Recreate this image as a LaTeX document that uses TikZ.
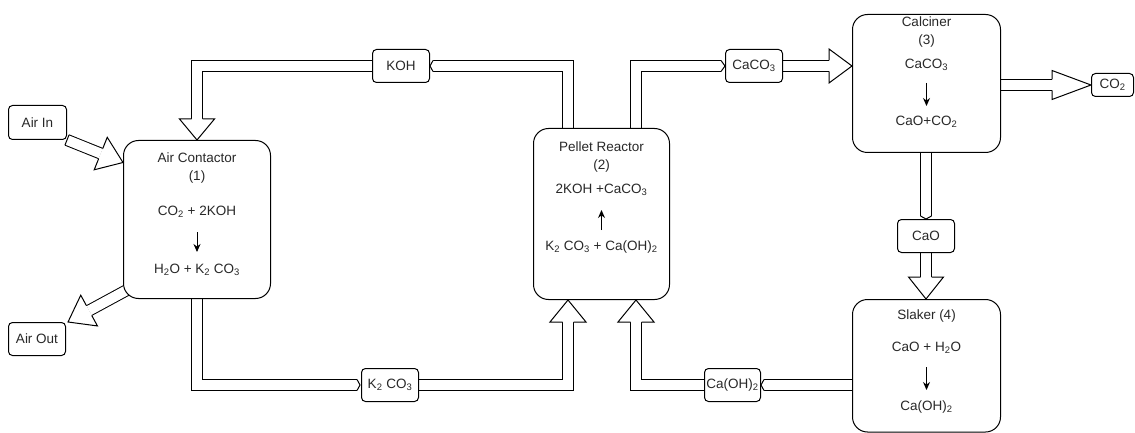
\documentclass[tikz,border=0pt]{standalone}
\usepackage{fontspec}
\setmainfont{Liberation Sans}
\usepackage{tikz}
\usetikzlibrary{
  arrows.meta,
  positioning,
  calc,
  backgrounds
}
\definecolor{flowtext}{RGB}{40,40,40}

% hollow head of a wide flow arrow: [half width]{base}{tip}
\newcommand{\flexhead}[3][17.5pt]{%
  \fill[white] ($(#2)!#1!90:(#3)$) -- (#3) -- ($(#2)!#1!-90:(#3)$) -- cycle;
  \draw[line width=1pt, line join=miter]
    ($(#2)!5.5pt!90:(#3)$) -- ($(#2)!#1!90:(#3)$) -- (#3)
    -- ($(#2)!#1!-90:(#3)$) -- ($(#2)!5.5pt!-90:(#3)$);
}

\begin{document}
\begin{tikzpicture}[
  x=1pt, y=-1pt,
  unit/.style={
    draw, rounded corners=15pt, fill=white, line width=1pt, inner sep=0pt
  },
  tag/.style={
    draw, rounded corners=4pt, fill=white, line width=1pt,
    minimum width=57pt, minimum height=33pt, inner sep=1pt,
    text=flowtext, font=\fontsize{13.5}{16}\selectfont
  },
  txt/.style={text=flowtext, align=center, inner sep=0pt,
    font=\fontsize{13.5}{18}\selectfont},
  pipe/.style={double, double distance=10pt, line width=1pt, line join=miter},
  react/.style={-{Stealth[length=8pt,width=7pt]}, line width=1pt},
]
\useasboundingbox (0,0) rectangle (1135,433);

% process units
\node[unit, minimum width=147pt, minimum height=158pt] (ac) at (197,219.5) {};
\node[unit, minimum width=136pt, minimum height=171pt] (pr) at (601.5,214) {};
\node[unit, minimum width=148pt, minimum height=138pt] (cal) at (926.5,83.5) {};
\node[unit, minimum width=148pt, minimum height=132.5pt] (sl) at (926.5,365.75) {};

% stream tags
\node[tag, minimum width=58pt, minimum height=34pt] (ain) at (37.5,122.5) {Air In};
\node[tag] (aout) at (37,339) {Air Out};
\node[tag] (koh) at (401,66) {KOH};
\node[tag] (cac) at (754,66) {CaCO\textsubscript{3}};
\node[tag] (kco) at (390,385) {K\textsubscript{2} CO\textsubscript{3}};
\node[tag, minimum width=56pt] (coh) at (732.5,385) {Ca(OH)\textsubscript{2}};
\node[tag] (cao) at (926,236) {CaO};
\node[tag, minimum width=42pt, minimum height=23pt] (co2) at (1112.5,85) {CO\textsubscript{2}};

% text in the units
\node[txt] (ac1) at (197,168) {Air Contactor\\(1)};
\node[txt] (ac2) at (197,212) {CO\textsubscript{2} + 2KOH};
\node[txt] (ac3) at (197,270) {H\textsubscript{2}O + K\textsubscript{2} CO\textsubscript{3}};
\draw[react, shorten <=20pt, shorten >=18pt] (ac2.center) -- (ac3.center);

\node[txt] (pr1) at (601.5,157) {Pellet Reactor\\(2)};
\node[txt] (pr2) at (601.5,190) {2KOH +CaCO\textsubscript{3}};
\node[txt] (pr3) at (601.5,247) {K\textsubscript{2} CO\textsubscript{3} + Ca(OH)\textsubscript{2}};
\draw[react, shorten <=17pt, shorten >=20pt] (pr3.center) -- (pr2.center);

\node[txt] (cal1) at (926.5,32) {Calciner\\(3)};
\node[txt] (cal2) at (926.5,65) {CaCO\textsubscript{3}};
\node[txt] (cal3) at (926.5,122) {CaO+CO\textsubscript{2}};
\draw[react, shorten <=18pt, shorten >=16pt] (cal2.center) -- (cal3.center);

\node[txt] (sl1) at (926.5,316) {Slaker (4)};
\node[txt] (sl2) at (926.5,348) {CaO + H\textsubscript{2}O};
\node[txt] (sl3) at (926.5,407) {Ca(OH)\textsubscript{2}};
\draw[react, shorten <=19pt, shorten >=17pt] (sl2.center) -- (sl3.center);

\begin{scope}[on background layer]
% air in / air out
\coordinate (inTip) at ([yshift=57pt]ac.west);
\coordinate (inB) at ($(inTip)!24pt!(ain.south east)$);
\draw[pipe] (ain.south east) -- (inB);
\draw[line width=1pt] ($(ain.south east)!5.5pt!90:(inB)$)
  -- ($(ain.south east)!5.5pt!-90:(inB)$);
\flexhead{inB}{inTip}
\coordinate (outT) at ([xshift=4pt,yshift=9pt]ac.south west);
\coordinate (outTip) at ([xshift=2pt]aout.north east);
\coordinate (outB) at ($(outTip)!24pt!(outT)$);
\draw[pipe] (outT) -- (outB);
\flexhead{outB}{outTip}

% KOH back to the contactor
\coordinate (kohS) at ([xshift=-33.5pt]pr.north);
\coordinate (kohN) at ([xshift=3pt]koh.east);
\draw[pipe] (kohS) |- (kohN);
\flexhead[5.5pt]{kohN}{koh.east}
\coordinate (kohB) at ([yshift=21pt]ac.north);
\draw[pipe] (koh.west) -| (kohB);
\flexhead{kohB}{ac.north}

% K2CO3 to the reactor
\coordinate (kcoN) at ([xshift=-4pt]kco.west);
\coordinate (kcoT) at ([xshift=-1pt]kco.west);
\draw[pipe] (ac.south) |- (kcoN);
\flexhead[5.5pt]{kcoN}{kcoT}
\coordinate (kcoTip) at ([xshift=-33.5pt]pr.south);
\coordinate (kcoB) at ([yshift=-22pt]kcoTip);
\draw[pipe] (kco.east) -| (kcoB);
\flexhead[18pt]{kcoB}{kcoTip}

% CaCO3 to the calciner
\coordinate (cacS) at ([xshift=34.5pt]pr.north);
\coordinate (cacN) at ([xshift=-4pt]cac.west);
\draw[pipe] (cacS) |- (cacN);
\flexhead[5.5pt]{cacN}{cac.west}
\coordinate (cacTip) at (cal.west |- cac.east);
\coordinate (cacB) at ([xshift=-23pt]cacTip);
\draw[pipe] (cac.east) -- (cacB);
\flexhead[17pt]{cacB}{cacTip}

% CO2 out
\coordinate (co2S) at (cal.east |- co2.west);
\coordinate (co2B) at ([xshift=-39pt]co2.west);
\draw[pipe] (co2S) -- (co2B);
\flexhead[14.5pt]{co2B}{co2.west}

% CaO to the slaker
\coordinate (caoS) at (cao.north |- cal.south);
\coordinate (caoN) at ([yshift=3pt]cao.north);
\draw[pipe] (caoS) -- (caoN);
\flexhead[5.5pt]{caoN}{cao.north}
\coordinate (caoTip) at (cao.south |- sl.north);
\coordinate (caoB) at ([yshift=22pt]caoTip);
\draw[pipe] (cao.south) -- (caoB);
\flexhead{caoB}{caoTip}

% Ca(OH)2 back to the reactor
\coordinate (cohS) at (sl.west |- coh.east);
\coordinate (cohN) at ([xshift=3pt]coh.east);
\draw[pipe] (cohS) -- (cohN);
\flexhead[5.5pt]{cohN}{coh.east}
\coordinate (cohTip) at ([xshift=34.5pt]pr.south);
\coordinate (cohB) at ([yshift=-22pt]cohTip);
\draw[pipe] (coh.west) -| (cohB);
\flexhead[18pt]{cohB}{cohTip}
\end{scope}

\end{tikzpicture}
\end{document}
